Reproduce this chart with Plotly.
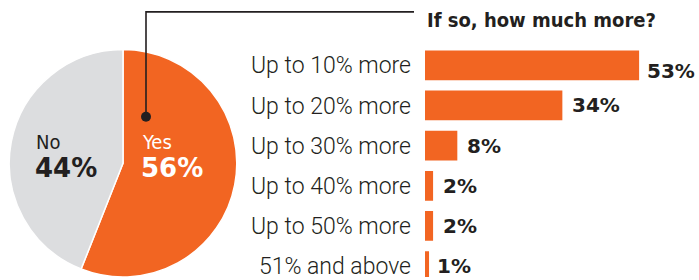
import plotly.graph_objects as go

# ---- data ----
pie_labels = ["Yes", "No"]
pie_values = [56, 44]
bar_categories = ["Up to 10% more", "Up to 20% more", "Up to 30% more",
                  "Up to 40% more", "Up to 50% more", "51% and above"]
bar_values = [53, 34, 8, 2, 2, 1]
title_text = "If so, how much more?"

ORANGE = "#F26522"
GREY = "#DCDDDF"
DARK = "#231F20"
W, H = 699, 280
COND = "Liberation Sans Narrow, DejaVu Sans Condensed, Arial Narrow, sans-serif"
BODY = "Roboto, Lato, Open Sans, sans-serif"
BOLD = "DejaVu Sans, Verdana, sans-serif"

fig = go.Figure()

fig.add_trace(go.Pie(
    labels=pie_labels, values=pie_values, sort=False, direction="clockwise",
    rotation=0, marker=dict(colors=[ORANGE, GREY], line=dict(color="white", width=1.5)),
    textinfo="none", hoverinfo="label+percent", showlegend=False,
    domain=dict(x=[7 / W, 239 / W], y=[0, (H - 50) / H]),
))

fig.add_trace(go.Bar(
    x=bar_values, y=bar_categories, orientation="h",
    marker=dict(color=ORANGE, line=dict(width=0)),
    showlegend=False, hoverinfo="x+y",
))

px_per = 4.04
y0_top = 45.7
fig.update_layout(
    width=W, height=H, margin=dict(l=0, r=0, t=0, b=0),
    paper_bgcolor="white", plot_bgcolor="white",
    bargap=0.26,
    xaxis=dict(domain=[425 / W, 1], range=[0, (W - 425) / px_per], visible=False, fixedrange=True),
    yaxis=dict(domain=[0, (H - y0_top) / H], range=[5.27, -0.5], autorange=False,
               showgrid=False, zeroline=False, showline=False, ticks="",
               ticklabelstandoff=13,
               tickfont=dict(family=BODY, size=23, color=DARK, weight=300), fixedrange=True),
)

# value labels
for i, (c, v) in enumerate(zip(bar_categories, bar_values)):
    fig.add_annotation(x=v, y=c, xref="x", yref="y", text=f"<b>{v}%</b>",
                       showarrow=False, xanchor="left", yanchor="middle",
                       xshift=6 if v in (53, 1) else 8, yshift=-6 if i == 0 else 0,
                       font=dict(family=BOLD, size=20, color=DARK))

# title
fig.add_annotation(x=425 / W, y=1 - 20 / H, xref="paper", yref="paper", text=f"<b>{title_text}</b>",
                   showarrow=False, xanchor="left", yanchor="middle",
                   font=dict(family=COND, size=20, color=DARK))

# pie labels
fig.add_annotation(x=34 / W, y=1 - 144 / H, xref="paper", yref="paper", text=pie_labels[1],
                   showarrow=False, xanchor="left", yanchor="middle",
                   font=dict(family=COND, size=20, color=DARK))
fig.add_annotation(x=33 / W, y=1 - 170 / H, xref="paper", yref="paper", text=f"<b>{pie_values[1]}%</b>",
                   showarrow=False, xanchor="left", yanchor="middle",
                   font=dict(family=BOLD, size=26, color=DARK))
fig.add_annotation(x=140 / W, y=1 - 144 / H, xref="paper", yref="paper", text=pie_labels[0],
                   showarrow=False, xanchor="left", yanchor="middle",
                   font=dict(family=COND, size=20, color="white"))
fig.add_annotation(x=139 / W, y=1 - 170 / H, xref="paper", yref="paper", text=f"<b>{pie_values[0]}%</b>",
                   showarrow=False, xanchor="left", yanchor="middle",
                   font=dict(family=BOLD, size=26, color="white"))

# callout line + dot
fig.add_shape(type="path", xref="paper", yref="paper",
              path=f"M {146/W} {1-118/H} L {146/W} {1-12/H} L {414/W} {1-12/H}",
              line=dict(color=DARK, width=1.6))
fig.add_shape(type="circle", xref="paper", yref="paper",
              x0=141 / W, x1=151 / W, y0=1 - 123 / H, y1=1 - 113 / H,
              fillcolor=DARK, line=dict(width=0))

fig.write_html("out.html", config={"displayModeBar": False},
               post_script="document.body.style.margin='0';")
